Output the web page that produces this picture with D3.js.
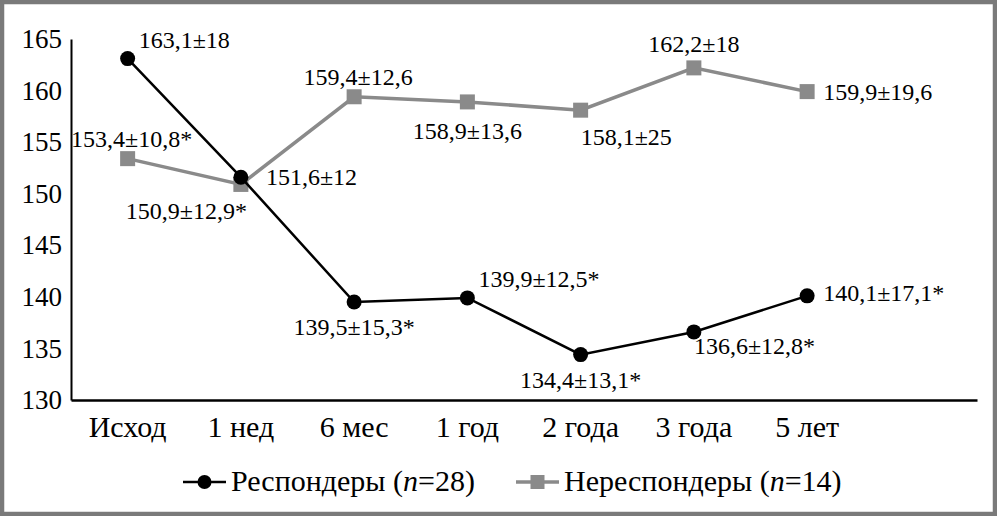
<!DOCTYPE html>
<html>
<head>
<meta charset="utf-8">
<script src="https://cdn.jsdelivr.net/npm/d3@7/dist/d3.min.js"></script>
<style>
    body { margin: 0; background: #fff; }
    svg text { font-family: "Liberation Serif", "Times New Roman", serif; fill: #000; }
</style>
</head>
<body>
<svg id="chart" width="997" height="516"></svg>
<script>
const categories = ['Исход', '1 нед', '6 мес', '1 год', '2 года', '3 года', '5 лет'];
const yTicks = [130, 135, 140, 145, 150, 155, 160, 165];

// Респондеры (n=28)
const respValues = [163.1, 151.6, 139.5, 139.9, 134.4, 136.6, 140.1];
const respSd = [18, 12, 15.3, 12.5, 13.1, 12.8, 17.1];
const respSig = [0, 0, 1, 1, 1, 1, 1];
const respLabelPos = ['aboveRight', 'rightFar', 'below', 'aboveRight', 'below', 'belowRight', 'rightUp'];

// Нереспондеры (n=14)
const nonValues = [153.4, 150.9, 159.4, 158.9, 158.1, 162.2, 159.9];
const nonSd = [10.8, 12.9, 12.6, 13.6, 25, 18, 19.6];
const nonSig = [1, 1, 0, 0, 0, 0, 0];
const nonLabelPos = ['above', 'belowLeft', 'above', 'belowFar', 'belowRightFar', 'aboveHigh', 'right'];

const W = 997, H = 516;
const grey = '#8a8a8a';

// label placements: [dx, dy, anchor]
const placements = {
    right: [16, 8, 'start'],
    rightUp: [16, 5, 'start'],
    rightFar: [25, 8, 'start'],
    aboveRight: [11, -11, 'start'],
    above: [4, -12, 'middle'],
    aboveHigh: [0, -16, 'middle'],
    below: [0, 33, 'middle'],
    belowFar: [0, 37, 'middle'],
    belowRight: [0, 22, 'start'],
    belowRightFar: [0, 35, 'start'],
    belowLeft: [6, 35, 'end']
};

const svg = d3.select('#chart');

svg.append('rect')
    .attr('x', 2).attr('y', 2)
    .attr('width', W - 4).attr('height', H - 4)
    .attr('fill', '#fff')
    .attr('stroke', '#7a7a7a')
    .attr('stroke-width', 4.5);

// one empty slot after the last category, like the original
let x = d3.scaleBand()
    .domain(categories.concat(['']))
    .range([71, 977]);

let y = d3.scaleLinear()
    .domain([130, 165])
    .range([400, 39]);

let cx = (d, i) => x(categories[i]) + x.bandwidth() / 2;

let yAxis = svg.append('g')
    .attr('transform', 'translate(71,0)')
    .call(d3.axisLeft(y).tickValues(yTicks).tickSize(0).tickPadding(9));

yAxis.select('.domain').attr('stroke', '#000').attr('stroke-width', 2);
yAxis.selectAll('text')
    .style('font-size', '27px')
    .attr('font-family', null);

let xAxis = svg.append('g')
    .attr('transform', 'translate(0,400)')
    .call(d3.axisBottom(x).tickSize(0).tickPadding(16));

xAxis.select('.domain').attr('stroke', '#000').attr('stroke-width', 2.5);
xAxis.selectAll('text')
    .style('font-size', '30px')
    .attr('font-family', null);

function fmt(v) {
    return String(v).replace('.', ',');
}

function drawSeries(values, sd, sig, pos, color, width, shape) {
    let line = d3.line()
        .x(cx)
        .y(d => y(d));

    svg.append('path')
        .datum(values)
        .attr('d', line)
        .attr('fill', 'none')
        .attr('stroke', color)
        .attr('stroke-width', width);

    if (shape === 'circle') {
        svg.append('g')
            .selectAll('circle')
            .data(values)
            .enter()
            .append('circle')
            .attr('cx', cx)
            .attr('cy', d => y(d))
            .attr('r', 7.5)
            .attr('fill', color);
    } else {
        svg.append('g')
            .selectAll('rect')
            .data(values)
            .enter()
            .append('rect')
            .attr('x', (d, i) => cx(d, i) - 7.5)
            .attr('y', d => y(d) - 7.5)
            .attr('width', 15)
            .attr('height', 15)
            .attr('fill', color);
    }

    svg.append('g')
        .selectAll('text')
        .data(values)
        .enter()
        .append('text')
        .attr('x', (d, i) => cx(d, i) + placements[pos[i]][0])
        .attr('y', (d, i) => y(d) + placements[pos[i]][1])
        .attr('text-anchor', (d, i) => placements[pos[i]][2])
        .style('font-size', '24px')
        .text((d, i) => `${fmt(d)}±${fmt(sd[i])}${sig[i] ? '*' : ''}`);
}

drawSeries(nonValues, nonSd, nonSig, nonLabelPos, grey, 3.5, 'square');
drawSeries(respValues, respSd, respSig, respLabelPos, '#000', 2.5, 'circle');

// legend
let legend = svg.append('g').attr('transform', 'translate(0,482)');
let items = [
    { x: 183, name: 'Респондеры', n: 28, color: '#000', shape: 'circle' },
    { x: 516, name: 'Нереспондеры', n: 14, color: grey, shape: 'square' }
];

items.forEach(it => {
    legend.append('line')
        .attr('x1', it.x).attr('x2', it.x + 43)
        .attr('y1', 0).attr('y2', 0)
        .attr('stroke', it.color)
        .attr('stroke-width', it.shape === 'circle' ? 2.5 : 3.5);

    if (it.shape === 'circle') {
        legend.append('circle')
            .attr('cx', it.x + 21.5).attr('cy', 0).attr('r', 7)
            .attr('fill', it.color);
    } else {
        legend.append('rect')
            .attr('x', it.x + 14.5).attr('y', -7)
            .attr('width', 14).attr('height', 14)
            .attr('fill', it.color);
    }

    let t = legend.append('text')
        .attr('x', it.x + 48)
        .attr('y', 9)
        .style('font-size', '30px');
    t.append('tspan').text(it.name + ' (');
    t.append('tspan').style('font-style', 'italic').text('n');
    t.append('tspan').text('=' + it.n + ')');
});
</script>
</body>
</html>
